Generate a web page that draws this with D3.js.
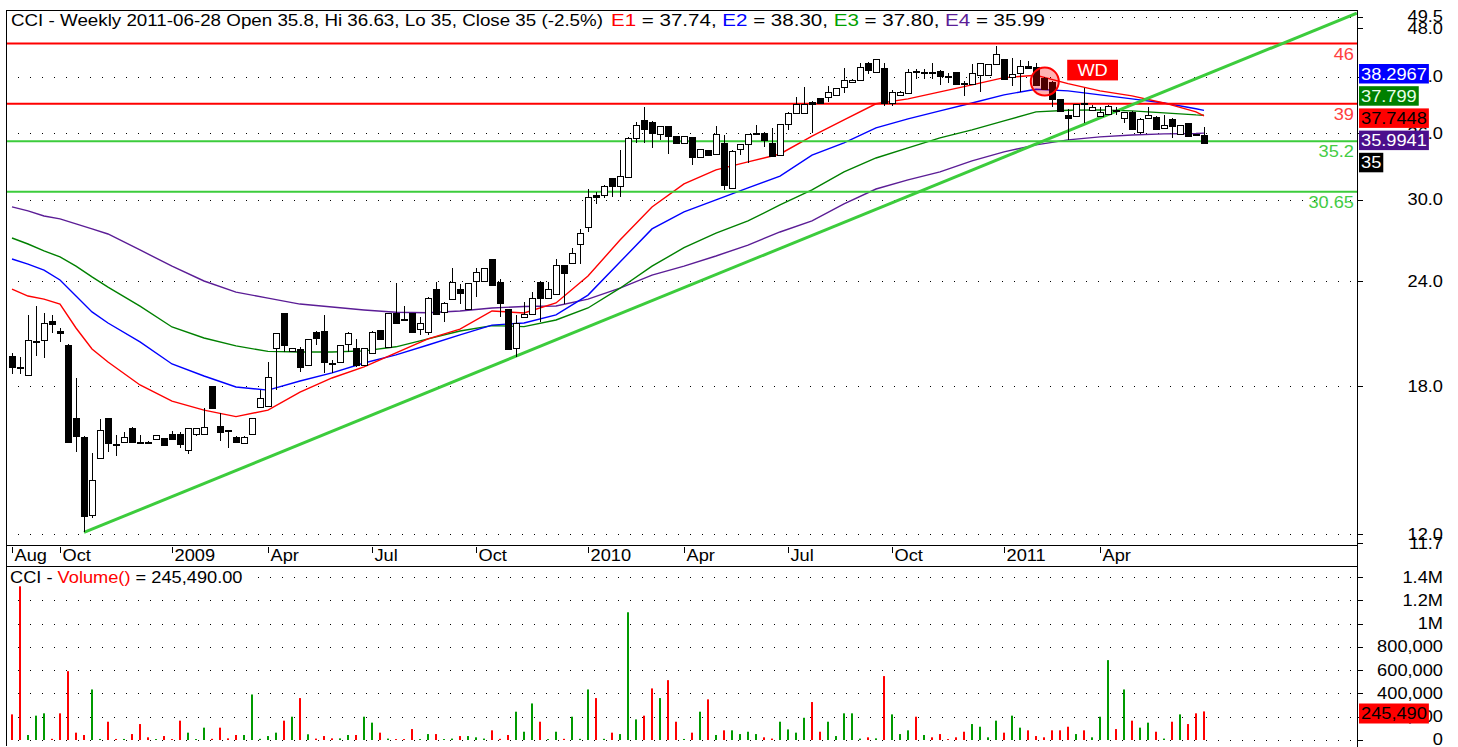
<!DOCTYPE html>
<html><head><meta charset="utf-8">
<script src="https://cdn.jsdelivr.net/npm/d3@7"></script>
<style>body{margin:0;background:#fff;} svg{display:block;} text{white-space:pre;}</style>
</head><body><svg id="c" width="1458" height="747"></svg>
<script>
// ---------------- DATA ----------------
const OPEN = [19.54,18.98,18.55,20.28,20.42,21.53,20.9,20.14,16.47,15.67,
12.64,14.79,16.47,15.35,15.45,16.05,15.45,15.45,15.55,15.6,
15.77,15.80,15.10,15.80,15.80,18.0,16.15,15.96,15.67,15.38,
15.80,16.98,17.04,19.96,21.97,19.82,19.9,19.07,20.89,20.93,
19.15,19.24,20.17,19.96,19.07,19.72,20.99,20.01,21.97,21.61,
21.97,21.03,20.89,23.47,22.07,22.82,23.47,22.23,24.03,24.03,
25.47,23.94,22.23,19.96,21.72,21.93,23.91,22.92,23.16,25.08,
25.20,26.54,27.85,30.35,30.38,31.8,31.14,31.93,35.5,37.32,
37.15,35.9,36.66,35.7,35.05,35.6,33.74,34.37,33.99,35.05,
30.94,34.45,34.9,35.86,36.0,35.05,33.9,36.85,38.08,37.98,
39.2,39.6,39.77,39.9,40.85,41.35,41.64,43.63,42.55,42.98,
39.05,39.9,40.21,42.63,42.55,42.6,42.7,42.1,42.55,41.3,
41.21,42.16,42.16,43.48,44.07,42.0,42.48,43.3,43.1,41.9,
41.4,39.5,37.8,37.7,39.05,38.3,37.7,37.9,38.3,37.5,
38.15,36.1,37.5,37.6,36.5,37.4,35.86,37.0,35.9,35.8];
const HIGH = [19.72,19.5,21.87,22.4,22.0,21.87,21.1,20.2,18.42,15.7,
14.97,16.43,16.5,15.73,15.88,16.1,15.73,15.47,15.74,15.6,
15.92,15.85,16.05,16.05,16.93,18.0,16.70,15.97,15.7,15.7,
16.5,17.8,19.24,20.8,22.0,20.0,20.05,20.5,20.9,21.87,
19.33,20.15,20.85,20.48,20.0,20.9,21.0,22.0,23.87,22.43,
22.0,21.73,22.95,23.91,22.65,24.85,23.82,23.9,24.85,24.9,
25.5,24.1,22.25,21.87,22.66,23.31,24.0,23.94,25.47,25.1,
26.25,27.70,30.86,30.65,31.2,31.8,34.37,35.6,37.1,38.7,
37.2,36.7,36.7,35.7,35.75,35.65,34.5,34.4,36.66,35.8,
34.35,34.95,35.9,36.76,36.05,36.5,36.9,38.1,39.7,40.79,
39.25,39.6,40.9,40.75,42.98,41.7,43.6,43.7,44.1,43.6,
40.5,40.4,42.89,42.9,42.9,43.6,42.8,42.4,42.6,41.5,
43.48,43.65,43.5,45.73,44.1,44.2,44.0,43.8,43.6,42.0,
41.5,39.5,38.4,39.0,40.7,38.9,38.7,38.9,38.7,38.15,
38.2,37.5,38.7,37.7,37.8,37.5,36.8,37.05,35.95,36.63];
const LOW = [18.59,18.6,18.55,19.54,19.43,20.84,20.3,15.4,15.03,12.05,
12.53,14.79,15.03,14.84,15.45,15.4,15.42,15.43,15.55,15.3,
15.52,15.17,14.94,15.69,15.8,16.96,15.48,15.17,15.4,15.35,
15.8,16.98,17.04,17.8,19.78,19.8,18.72,19.05,20.14,18.64,
18.64,19.2,19.78,18.97,19.05,19.7,20.4,20.0,21.4,21.55,
20.84,20.71,20.7,21.9,21.47,22.8,22.53,22.2,22.98,24.0,
23.7,21.75,19.9,19.50,21.7,21.9,21.47,22.9,23.1,22.53,
25.15,25.15,27.48,29.6,30.1,30.2,30.24,31.9,35.0,35.0,
34.52,35.33,33.99,35.0,35.0,32.99,33.7,33.85,33.95,30.8,
30.9,33.9,33.14,35.8,34.62,33.8,33.9,36.31,37.9,37.9,
35.97,39.1,39.2,39.85,40.15,41.3,41.6,42.3,42.5,38.8,
38.8,39.85,40.2,41.72,41.7,41.7,41.08,41.3,41.08,39.86,
41.2,40.33,42.1,43.4,41.7,40.9,40.33,42.9,41.0,40.6,
38.7,38.25,35.33,37.7,37.0,38.2,37.7,37.8,37.8,37.0,
36.3,35.9,37.4,36.35,36.45,35.5,35.8,35.6,35.8,35.0];
const CLOSE = [18.98,18.95,20.42,20.38,21.38,21.33,20.84,15.42,15.69,12.6,
13.91,15.95,15.40,15.33,15.67,15.42,15.44,15.44,15.73,15.31,
15.55,15.35,16.03,16.03,16.10,16.96,15.85,15.95,15.42,15.67,
16.47,17.40,18.47,20.80,20.14,19.96,18.97,20.48,20.51,19.24,
19.12,20.14,20.80,19.07,19.96,20.89,20.46,21.97,21.41,21.59,
20.89,21.41,22.92,21.93,22.61,23.91,23.22,23.87,24.57,24.85,
23.76,22.57,19.92,21.38,21.93,22.92,22.92,23.45,25.08,24.50,
25.94,27.40,30.19,30.25,31.14,31.14,31.99,35.5,36.76,36.38,
36.0,36.66,35.7,35.05,35.7,33.74,34.45,33.9,35.86,31.23,
34.3,34.9,35.86,36.0,35.33,33.8,36.85,38.08,39.0,39.0,
39.0,39.1,40.33,40.7,41.64,41.64,43.1,42.8,44.07,39.05,
40.33,40.33,42.6,42.55,42.6,42.5,42.05,42.08,41.21,41.2,
42.48,43.6,43.48,44.7,41.72,42.3,43.3,42.98,41.08,40.63,
39.5,38.28,37.5,38.95,39.0,38.7,38.1,38.8,38.25,38.1,
36.4,37.4,37.8,36.4,36.8,36.66,36.76,35.7,35.85,35.0];
const VOLUME = [220000,1320000,43000,209000,229000,10000,229000,591000,63000,43000,
434000,9000,157000,9000,9000,51000,137000,23000,8000,34000,
8000,166000,63000,8000,106000,10000,106000,14000,43000,43000,
391000,10000,34000,63000,166000,200000,360000,49000,12000,34000,
14000,14000,43000,43000,200000,149000,63000,12000,8000,8000,
94000,8000,51000,51000,8000,12000,34000,34000,23000,12000,
83000,10000,43000,243000,71000,314000,157000,8000,71000,10000,
200000,10000,434000,360000,10000,63000,51000,1097000,177000,209000,
443000,360000,514000,157000,9000,63000,243000,349000,43000,83000,
83000,51000,71000,51000,23000,12000,157000,91000,63000,191000,
326000,71000,157000,34000,229000,229000,12000,23000,14000,549000,
220000,51000,83000,200000,43000,23000,51000,8000,23000,71000,
137000,114000,23000,166000,63000,209000,106000,83000,34000,23000,
83000,83000,114000,51000,83000,23000,200000,686000,94000,434000,
166000,106000,149000,71000,12000,157000,220000,137000,229000,245490];

const EMA_IDX = [0,2,4,6,8,10,12,16,20,24,28,32,36,40,44,48,52,56,60,64,68,72,76,80,84,88,92,96,100,104,108,112,116,120,124,128,132,136,140,144,148,149];
const E1 = [23.47,23.03,22.84,22.53,21.10,19.92,19.22,18.05,17.27,16.85,16.55,16.85,17.70,18.40,18.97,19.71,20.48,21.04,22.11,21.99,22.60,24.33,26.85,29.40,31.32,32.54,33.26,33.99,35.69,37.32,39.0,39.53,40.30,41.08,41.9,42.17,41.21,40.41,39.86,39.09,38.15,37.74];
const E2 = [25.49,25.14,24.73,24.07,23.03,22.05,21.39,20.31,19.12,18.50,17.95,17.80,18.25,18.66,19.17,19.60,20.14,20.71,21.27,21.39,21.87,23.09,25.28,27.68,29.0,29.97,30.97,31.99,33.89,35.04,36.51,37.42,38.25,39.09,39.97,40.58,40.41,39.97,39.53,39.09,38.47,38.30];
const E3 = [27.0,26.56,26.06,25.64,25.0,24.27,23.6,22.4,21.16,20.53,20.09,19.79,19.76,19.76,19.82,20.04,20.48,20.93,21.24,21.18,21.57,22.29,23.53,25.0,26.29,27.37,28.29,29.56,30.80,32.36,33.62,34.56,35.52,36.31,37.22,38.15,38.31,38.36,38.25,38.04,37.83,37.80];
const E4 = [29.4,29.08,28.68,28.45,28.06,27.68,27.30,26.13,25.0,24.0,23.28,22.9,22.53,22.35,22.17,22.03,22.0,22.11,22.29,22.38,22.41,22.84,23.53,24.39,25.0,25.7,26.48,27.45,28.29,29.64,30.88,31.66,32.36,33.35,34.18,34.85,35.33,35.62,35.81,35.91,35.95,35.99];

const X_TICK_IDX = [0,6,20,32,45,58,72,84,97,110,124,136];
const X_TICK_LABELS = ['Aug','Oct','2009','Apr','Jul','Oct','2010','Apr','Jul','Oct','2011','Apr'];
const PRICE_TICKS = [49.5,48,42,36,30,24,18,12,11.7];
const PRICE_GRID = [49.5,42,36,30,24,18,12];
const VOL_TICKS = [1400000,1200000,1000000,800000,600000,400000,200000,0];
const VOL_TICK_LABELS = ['1.4M','1.2M','1M','800,000','600,000','400,000','200,000','0'];
const RED_LEVELS = [46,39];
const GREEN_LEVELS = [35.2,30.65];
const TREND = [{i:9,v:12.05},{i:168.1,v:50.0}];
const TITLE_MAIN = 'CCI - Weekly 2011-06-28 Open 35.8, Hi 36.63, Lo 35, Close 35 (-2.5%)';
const TITLE_EMAS = [['E1','37.74'],['E2','38.30'],['E3','37.80'],['E4','35.99']];
const LAST_LABELS = [
  {text:'38.2967', bg:'#0000ff', fg:'#ffffff'},
  {text:'37.799',  bg:'#008000', fg:'#e8ffe8'},
  {text:'37.7448', bg:'#ff0000', fg:'#000000'},
  {text:'35.9941', bg:'#4b0f8c', fg:'#ffffff'},
  {text:'35',      bg:'#000000', fg:'#ffffff'}];
const VOL_LAST = '245,490';
const WD_CIRCLE = {i:129.1, v:41.45};
const WD_BOX = {i0:131.9, i1:138.25, vTop:44.0, vBot:41.58};

// ---------------- LAYOUT ----------------
const L = 6, R = 1357, PT = 10, PB = 545, VT = 566, VB = 746;
const FONT = "'Liberation Sans', Arial, sans-serif";
const SX = 1.14, FS = 16;
const EMA_COLORS = ['#ff0000','#0000ff','#00a000','#5b1d96'];

const svg = d3.select('#c');
svg.append('rect').attr('width',1458).attr('height',747).attr('fill','#fff');

const x = d3.scaleLinear().domain([0,149]).range([12,1204]);
const y = d3.scaleLog().domain([12,48]).range([534,28]);
const yv = d3.scaleLinear().domain([0,1400000]).range([740,577]);

function T(g, px, py, s, anchor, fill) {
  return g.append('text')
    .attr('transform', `translate(${px},${py}) scale(${SX},1)`)
    .attr('font-family', FONT).attr('font-size', FS)
    .attr('text-anchor', anchor || 'start')
    .attr('fill', fill || '#000').text(s);
}

svg.append('defs').append('clipPath').attr('id','pc')
  .append('rect').attr('x',L).attr('y',PT).attr('width',R-L).attr('height',PB-PT);
const P = svg.append('g').attr('clip-path','url(#pc)');

// grid
P.selectAll('line.g').data(PRICE_GRID).join('line')
  .attr('x1',L).attr('x2',R).attr('y1',d=>Math.round(y(d))+0.5).attr('y2',d=>Math.round(y(d))+0.5)
  .attr('stroke','#000').attr('stroke-dasharray','1,11');

// EMAs
const line = arr => d3.line().x((d,k)=>x(EMA_IDX[k])).y(d=>y(d))(arr);
[[E4,'#5b1d96'],[E3,'#008000'],[E2,'#0000ff'],[E1,'#ff0000']].forEach(([arr,c])=>{
  P.append('path').attr('d',line(arr)).attr('fill','none').attr('stroke',c).attr('stroke-width',1.4);
});

// levels
RED_LEVELS.forEach(v=>{
  P.append('line').attr('x1',L).attr('x2',R).attr('y1',y(v)).attr('y2',y(v)).attr('stroke','#ff0000').attr('stroke-width',2);
});
GREEN_LEVELS.forEach(v=>{
  P.append('line').attr('x1',L).attr('x2',R).attr('y1',y(v)).attr('y2',y(v)).attr('stroke','#3ccc3c').attr('stroke-width',2);
});

// trend line
P.append('line').attr('x1',x(TREND[0].i)).attr('y1',y(TREND[0].v))
  .attr('x2',x(TREND[1].i)).attr('y2',y(TREND[1].v))
  .attr('stroke','#3ccc3c').attr('stroke-width',3);

// candles
const idx = d3.range(OPEN.length);
const C = P.append('g').attr('shape-rendering','crispEdges');
C.selectAll('line.w').data(idx).join('line')
  .attr('x1',i=>Math.round(x(i))+0.5).attr('x2',i=>Math.round(x(i))+0.5)
  .attr('y1',i=>y(HIGH[i])).attr('y2',i=>y(LOW[i])).attr('stroke','#000');
C.selectAll('rect.b').data(idx).join('rect')
  .attr('x',i=>Math.round(x(i))-2.5)
  .attr('y',i=>Math.round(y(Math.max(OPEN[i],CLOSE[i])))+0.5)
  .attr('width',6)
  .attr('height',i=>Math.max(1,Math.round(y(Math.min(OPEN[i],CLOSE[i])))-Math.round(y(Math.max(OPEN[i],CLOSE[i])))))
  .attr('fill',i=>CLOSE[i]<OPEN[i]?'#000':'#fff').attr('stroke','#000');

// level labels
RED_LEVELS.forEach(v=>T(svg, R-3, y(v)+16, String(v), 'end', '#ff4040'));
GREEN_LEVELS.forEach(v=>T(svg, R-3, y(v)+16, String(v), 'end', '#44cc44'));

// WD annotation
svg.append('circle').attr('cx',x(WD_CIRCLE.i)).attr('cy',y(WD_CIRCLE.v)).attr('r',14)
  .attr('fill','rgba(255,0,0,0.3)').attr('stroke','#ff0000').attr('stroke-width',2);
svg.append('rect').attr('x',x(WD_BOX.i0)).attr('y',y(WD_BOX.vTop))
  .attr('width',x(WD_BOX.i1)-x(WD_BOX.i0)).attr('height',y(WD_BOX.vBot)-y(WD_BOX.vTop)).attr('fill','#ff0000');
T(svg,(x(WD_BOX.i0)+x(WD_BOX.i1))/2, y(WD_BOX.vBot)-4, 'WD', 'middle', '#fff');

// title
svg.append('rect').attr('x',8).attr('y',12).attr('width',1040).attr('height',16).attr('fill','#fff');
svg.append('text').attr('x',11).attr('y',26).attr('font-family',FONT).attr('font-size',FS)
  .attr('textLength',592).attr('lengthAdjust','spacingAndGlyphs').attr('fill','#000').text(TITLE_MAIN);
const tt = svg.append('text').attr('x',611).attr('y',26).attr('font-family',FONT).attr('font-size',FS)
  .attr('textLength',434).attr('lengthAdjust','spacingAndGlyphs').attr('fill','#000');
TITLE_EMAS.forEach(([a,b],k)=>{
  tt.append('tspan').attr('fill',EMA_COLORS[k]).text(a);
  tt.append('tspan').text(' = ' + b + (k<TITLE_EMAS.length-1 ? ', ' : ''));
});

// frames
const F = svg.append('g').attr('stroke','#000').attr('shape-rendering','crispEdges');
F.append('line').attr('x1',L+0.5).attr('x2',L+0.5).attr('y1',PT).attr('y2',VB);
F.append('line').attr('x1',R+0.5).attr('x2',R+0.5).attr('y1',PT).attr('y2',747);
F.append('line').attr('x1',L).attr('x2',R).attr('y1',PT+0.5).attr('y2',PT+0.5);
F.append('line').attr('x1',L).attr('x2',R).attr('y1',PB+0.5).attr('y2',PB+0.5);
F.append('line').attr('x1',L).attr('x2',R).attr('y1',VT+0.5).attr('y2',VT+0.5);

// x axis ticks
X_TICK_IDX.forEach((i,k)=>{
  const px = Math.round(x(i)) + 0.5;
  F.append('line').attr('x1',px).attr('x2',px).attr('y1',PB+2).attr('y2',PB+8);
  T(svg, px+2, 561, X_TICK_LABELS[k]);
});

// right price axis
PRICE_TICKS.forEach(v=>{
  F.append('line').attr('x1',R).attr('x2',R+6).attr('y1',Math.round(y(v))+0.5).attr('y2',Math.round(y(v))+0.5);
  T(svg, 1443, y(v)+5.5, v.toFixed(1), 'end');
});

// last-value boxes
LAST_LABELS.forEach((d,k)=>{
  const top = 64 + k*22.2;
  const g = svg.append('g');
  const t = T(g, 1361, top+15.5, d.text, 'start', d.fg);
  const w = t.node().getBBox().width*SX + 4;
  g.insert('rect','text').attr('x',1359).attr('y',top).attr('width',w).attr('height',19.5).attr('fill',d.bg);
});

// volume panel
const V = svg.append('g');
V.selectAll('line.vg').data(VOL_TICKS).join('line')
  .attr('x1',L).attr('x2',R).attr('y1',d=>Math.round(yv(d))+0.5).attr('y2',d=>Math.round(yv(d))+0.5)
  .attr('stroke','#000').attr('stroke-dasharray','1,11');
V.selectAll('rect.v').data(idx).join('rect')
  .attr('x',i=>Math.round(x(i))-1).attr('width',2)
  .attr('y',i=>yv(VOLUME[i])).attr('height',i=>yv(0)-yv(VOLUME[i]))
  .attr('fill',i=>CLOSE[i]<OPEN[i]?'#ff0000':'#009a00');
svg.append('rect').attr('x',8).attr('y',570).attr('width',242).attr('height',15).attr('fill','#fff');
const vt = svg.append('text').attr('transform',`translate(10,583) scale(${SX},1)`)
  .attr('font-family',FONT).attr('font-size',FS).attr('fill','#000');
vt.append('tspan').text('CCI - ');
vt.append('tspan').attr('fill','#ff0000').text('Volume()');
vt.append('tspan').text(' = ' + d3.format(',.2f')(VOLUME[VOLUME.length-1]));

VOL_TICKS.forEach((v,k)=>{
  F.append('line').attr('x1',R).attr('x2',R+6).attr('y1',Math.round(yv(v))+0.5).attr('y2',Math.round(yv(v))+0.5);
  T(svg, 1443, Math.min(yv(v)+5.5, 744.5), VOL_TICK_LABELS[k], 'end');
});
{
  const g = svg.append('g');
  const t = T(g, 1361, 719, VOL_LAST, 'start', '#000');
  const w = t.node().getBBox().width*SX + 4;
  g.insert('rect','text').attr('x',1359).attr('y',703.5).attr('width',w).attr('height',20).attr('fill','#ff0000');
}
</script></body></html>
